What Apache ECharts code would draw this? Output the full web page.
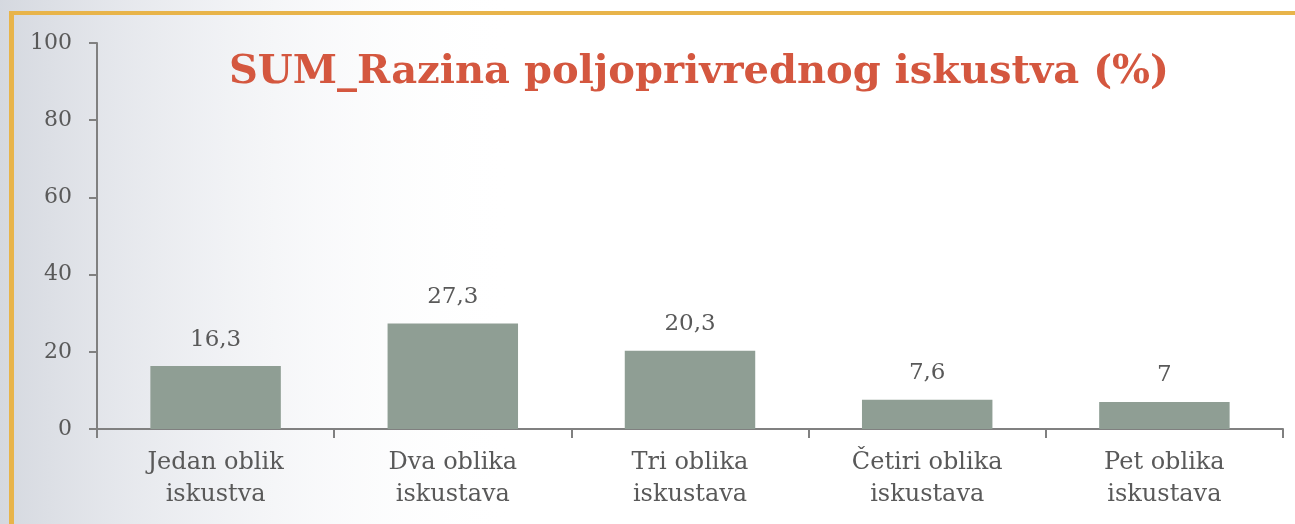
<!DOCTYPE html>
<html>
<head>
<meta charset="utf-8">
<script src="https://cdn.jsdelivr.net/npm/echarts@6/dist/echarts.min.js"></script>
<style>
  html, body { margin: 0; padding: 0; background: #fff; }
  #main { width: 1295px; height: 524px; }
</style>
</head>
<body>
<div id="main"></div>
<script>
const categories = ['Jedan oblik\niskustva', 'Dva oblika\niskustava', 'Tri oblika\niskustava', 'Četiri oblika\niskustava', 'Pet oblika\niskustava'];
const values = [16.3, 27.3, 20.3, 7.6, 7];
const yTicks = [0, 20, 40, 60, 80, 100];

const chart = echarts.init(document.getElementById('main'));
const option = {
    backgroundColor: '#fff',
    graphic: [
        // faded photo-like backdrop on the left
        {
            type: 'rect', z: -10, silent: true,
            shape: { x: 0, y: 0, width: 1295, height: 524 },
            style: {
                fill: new echarts.graphic.LinearGradient(0, 0, 1, 0, [
                    { offset: 0, color: 'rgba(195,200,210,0.7)' },
                    { offset: 0.15, color: 'rgba(220,223,230,0.5)' },
                    { offset: 0.4, color: 'rgba(255,255,255,0)' }
                ])
            }
        },
        // gold frame, top and left
        { type: 'rect', z: 10, shape: { x: 9, y: 11, width: 1286, height: 4 }, style: { fill: '#e8b44a' } },
        { type: 'rect', z: 10, shape: { x: 9, y: 11, width: 5, height: 513 }, style: { fill: '#e8b44a' } }
    ],
    title: {
        text: 'SUM_Razina poljoprivrednog iskustva (%)',
        left: 694, top: 48, textAlign: 'center',
        textStyle: { fontFamily: 'DejaVu Serif', fontWeight: 'bold', fontSize: 40, color: '#d4573f' }
    },
    grid: { left: 97, right: 12, top: 43, bottom: 95 },
    xAxis: {
        type: 'category',
        data: categories,
        axisLine: { lineStyle: { color: '#808080', width: 2 } },
        axisTick: { show: true, length: 9, lineStyle: { color: '#808080', width: 2 } },
        axisLabel: { fontFamily: 'DejaVu Serif', fontSize: 24, color: '#595959', lineHeight: 32, margin: 18, interval: 0 }
    },
    yAxis: {
        type: 'value',
        min: 0, max: 100, interval: 20,
        axisLine: { show: true, lineStyle: { color: '#808080', width: 2 } },
        axisTick: { show: true, length: 8, lineStyle: { color: '#808080', width: 2 } },
        splitLine: { show: false },
        axisLabel: {
            fontFamily: 'DejaVu Serif', fontSize: 22, color: '#595959', margin: 25,
            formatter: function (v) { return yTicks.indexOf(v) >= 0 ? String(v) : ''; }
        }
    },
    series: [{
        type: 'bar',
        data: values,
        barWidth: '55%',
        itemStyle: { color: '#8f9e94' },
        label: {
            show: true, position: 'top', distance: 15,
            fontFamily: 'DejaVu Serif', fontSize: 23, color: '#595959',
            formatter: function (p) { return String(p.value).replace('.', ','); }
        }
    }]
};
chart.setOption(option);
</script>
</body>
</html>
